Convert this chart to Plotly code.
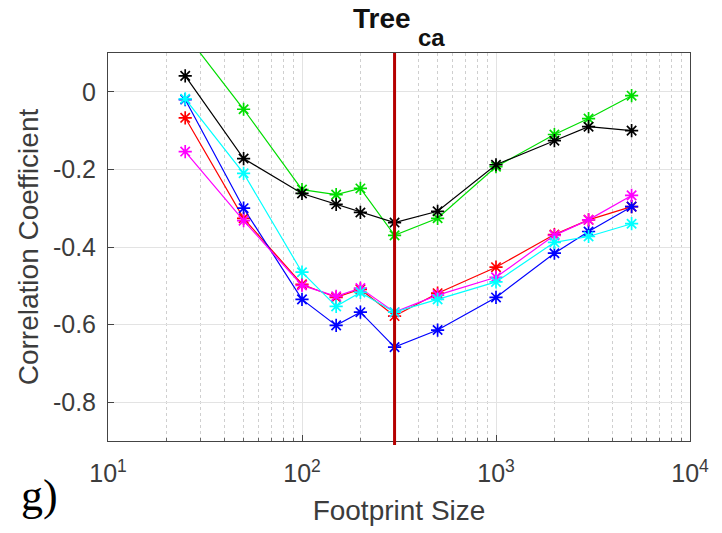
import plotly.graph_objects as go

footprint = [25, 50, 100, 150, 200, 300, 500, 1000, 2000, 3000, 5000]
black = [0.041, -0.172, -0.262, -0.290, -0.311, -0.337, -0.308, -0.188, -0.126, -0.090, -0.100]
green = [0.150, -0.045, -0.252, -0.265, -0.249, -0.370, -0.326, -0.193, -0.110, -0.069, -0.010]
red = [-0.067, -0.326, -0.496, -0.530, -0.509, -0.578, -0.519, -0.452, -0.368, -0.330, -0.296]
blue = [-0.020, -0.300, -0.535, -0.602, -0.568, -0.658, -0.614, -0.530, -0.416, -0.360, -0.296]
magenta = [-0.154, -0.332, -0.499, -0.527, -0.506, -0.568, -0.524, -0.478, -0.370, -0.330, -0.267]
cyan = [-0.018, -0.210, -0.465, -0.553, -0.517, -0.568, -0.535, -0.490, -0.388, -0.373, -0.340]

series = [
    ("green", green, "#00dd00"),
    ("black", black, "#000000"),
    ("red", red, "#ff0000"),
    ("blue", blue, "#0000ff"),
    ("magenta", magenta, "#ff00ff"),
    ("cyan", cyan, "#00ffff"),
]

x_tickvals = [10, 100, 1000, 10000]
x_ticktext = ["10<sup>1</sup>", "10<sup>2</sup>", "10<sup>3</sup>", "10<sup>4</sup>"]
x_minor_vals = [m * d for d in (10, 100, 1000) for m in range(2, 10)]
y_tickvals = [0, -0.2, -0.4, -0.6, -0.8]
y_ticktext = ["0", "-0.2", "-0.4", "-0.6", "-0.8"]
threshold = 300

fig = go.Figure()
for name, vals, col in series:
    fig.add_trace(go.Scatter(
        x=footprint, y=vals, mode="lines+markers", name=name,
        line=dict(color=col, width=1.2),
        marker=dict(symbol="asterisk-open", size=11, line=dict(color=col, width=1.7), color=col),
        cliponaxis=True, showlegend=False,
    ))

fig.add_shape(type="line", xref="x", yref="paper", x0=threshold, x1=threshold, y0=-0.01, y1=1,
              line=dict(color="#b50000", width=3))

sans = "Liberation Sans, Arial, Helvetica, sans-serif"
tick_font = dict(family=sans, size=25, color="#3c3c3c")
title_font = dict(family=sans, size=28, color="#3c3c3c")

fig.update_xaxes(
    type="log", range=[1, 4],
    tickvals=x_tickvals, ticktext=x_ticktext,
    ticks="inside", ticklen=6, tickcolor="#444444",
    showline=True, linecolor="#444444", linewidth=1, mirror=True,
    showgrid=True, gridcolor="#e3e3e3", gridwidth=1,
    minor=dict(tickmode="array", tickvals=x_minor_vals, ticks="inside", ticklen=3,
               tickcolor="#666666", showgrid=True,
               gridcolor="#cfcfcf", griddash="dot", gridwidth=1),
    tickfont=tick_font, ticklabelstandoff=10,
    title=dict(text="Footprint Size", font=title_font, standoff=14),
    zeroline=False,
)
fig.update_yaxes(
    range=[-0.9, 0.1],
    tickvals=y_tickvals, ticktext=y_ticktext,
    ticks="inside", ticklen=6, tickcolor="#444444",
    showline=True, linecolor="#444444", linewidth=1, mirror=True,
    showgrid=True, gridcolor="#e3e3e3", gridwidth=1,
    tickfont=tick_font, ticklabelstandoff=6,
    title=dict(text="Correlation Coefficient", font=title_font, standoff=6),
    zeroline=False,
)

fig.update_layout(
    width=722, height=533,
    margin=dict(l=108, r=32, t=53, b=92),
    paper_bgcolor="white", plot_bgcolor="white",
)

# Title "Tree" with large subscript "ca"
fig.add_annotation(text="<b>Tree</b>", xref="paper", yref="paper", x=0.417, y=1.088,
                   xanchor="left", yanchor="middle", showarrow=False,
                   font=dict(family=sans, size=28, color="#111111"))
fig.add_annotation(text="<b>ca</b>", xref="paper", yref="paper", x=0.529, y=1.041,
                   xanchor="left", yanchor="middle", showarrow=False,
                   font=dict(family=sans, size=24, color="#111111"))

fig.add_annotation(text="g)", xref="paper", yref="paper", x=-0.153, y=-0.14,
                   xanchor="left", yanchor="middle", showarrow=False,
                   font=dict(family="Liberation Serif, Times New Roman, serif", size=44, color="#000000"))

fig.write_html("out.html")
